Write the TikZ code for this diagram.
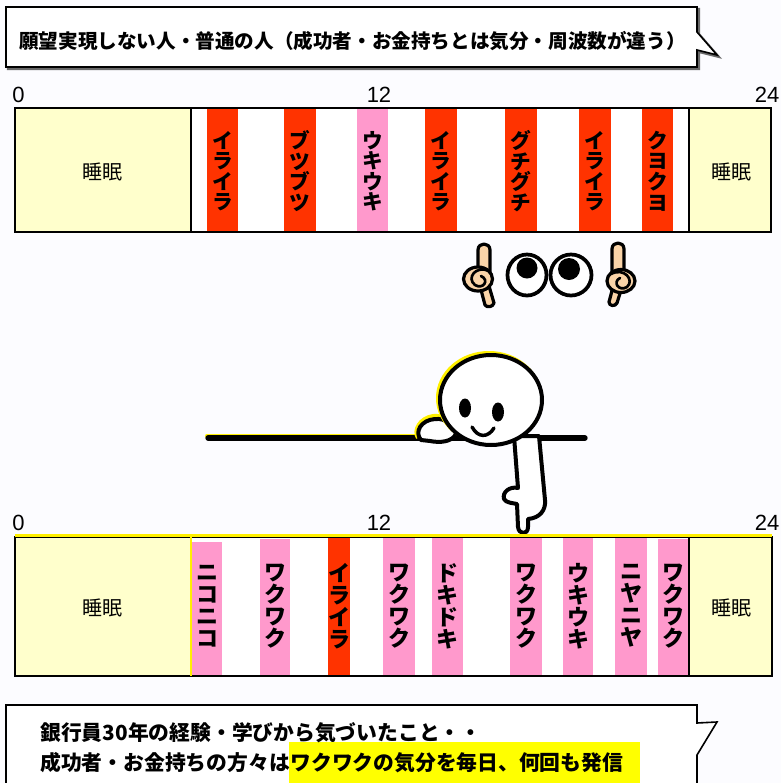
\documentclass[tikz,border=0pt]{standalone}
\usepackage{fontspec}
\newfontfamily\jp{Noto Sans CJK JP}
\newfontfamily\lat{Liberation Sans}
\usetikzlibrary{backgrounds,calc}

\definecolor{pagebg}{RGB}{252,252,255}
\definecolor{sleepfill}{RGB}{255,255,204}
\definecolor{moodred}{RGB}{255,51,0}
\definecolor{moodpink}{RGB}{255,153,204}
\definecolor{skin}{RGB}{250,212,168}
\definecolor{hilite}{RGB}{255,255,0}
\definecolor{shadowgray}{RGB}{105,105,105}
\definecolor{glow}{RGB}{255,240,0}

\tikzset{
  moodtxt/.style={font=\jp\bfseries\fontsize{15.5}{15.4}\selectfont, align=center, inner sep=0pt},
  moodtxtb/.style={font=\jp\bfseries\fontsize{16.5}{16.5}\selectfont, align=center, inner sep=0pt},
  sleeptxt/.style={font=\jp\fontsize{15}{18}\selectfont, inner sep=0pt},
  hourtxt/.style={font=\lat\fontsize{16.5}{18}\selectfont, inner sep=0pt},
  bubbletxt/.style={font=\jp\bfseries\fontsize{14.7}{17}\selectfont, inner sep=0pt, anchor=west},
  bubbletxtb/.style={font=\jp\bfseries\fontsize{15.6}{18}\selectfont, inner sep=0pt, anchor=west},
  barframe/.style={draw=black, line width=1.2},
  sleepbox/.style={fill=sleepfill, draw=black, line width=1},
  ink/.style={draw=black, line width=3, line join=round, line cap=round},
  handink/.style={draw=black, line width=2.4, line join=round, line cap=round, fill=skin},
}

% one coloured mood stripe with its vertical caption
% #1 name, #2 left, #3 right, #4 top, #5 bottom, #6 colour, #7 caption centre y, #8 caption
\newcommand\moodstripe[8]{%
  \fill[#6] (#2,#4) rectangle (#3,#5);
  \node[moodtxt] (#1) at ({(#2+#3)/2},#7) {#8};}
\newcommand\moodstripeb[8]{%
  \fill[#6] (#2,#4) rectangle (#3,#5);
  \node[moodtxtb] (#1) at ({(#2+#3)/2},#7) {#8};}

\begin{document}
\begin{tikzpicture}[x=0.75pt,y=-0.75pt]
\useasboundingbox (0,0) rectangle (781,783);

\begin{scope}[on background layer]
  \fill[pagebg] (0,0) rectangle (781,783);
  % headline speech bubble with its drop shadow
  \begin{scope}[shift={(2,2)}]
    \draw[shadowgray, line width=1.6, line join=miter]
      (6,7) -- (697,7) -- (697,32) -- (717,55) -- (697,50) -- (697,67) -- (6,67) -- cycle;
  \end{scope}
  \draw[black, line width=1.2, fill=white, line join=miter]
    (6,7) -- (697,7) -- (697,32) -- (717,55) -- (697,50) -- (697,67) -- (6,67) -- cycle;
  % lesson speech bubble, running off the lower edge
  \draw[black, line width=1.2, fill=white, line join=miter]
    (6,790) -- (6,705) -- (697,705) -- (697,723) -- (717,722) -- (697,755) -- (697,790);
\end{scope}

% ---------------- headline ----------------
\node[bubbletxt] (headline) at (19,41)
  {願望実現しない人・普通の人（成功者・お金持ちとは気分・周波数が違う）};

% ---------------- upper day bar ----------------
\node[hourtxt, anchor=west] (h0a) at (12,95) {0};
\node[hourtxt] (h12a) at (379,95) {12};
\node[hourtxt] (h24a) at (767,95) {24};

\fill[white] (15,108) rectangle (771,232);
\moodstripe{a1}{207}{238}{108}{232}{moodred}{171}{イ\\ラ\\イ\\ラ}
\moodstripe{a2}{284}{316}{108}{232}{moodred}{171}{ブ\\ツ\\ブ\\ツ}
\moodstripe{a3}{357}{388}{108}{232}{moodpink}{171}{ウ\\キ\\ウ\\キ}
\moodstripe{a4}{425}{457}{108}{232}{moodred}{171}{イ\\ラ\\イ\\ラ}
\moodstripe{a5}{505}{537}{108}{232}{moodred}{171}{グ\\チ\\グ\\チ}
\moodstripe{a6}{579}{611}{108}{232}{moodred}{171}{イ\\ラ\\イ\\ラ}
\moodstripe{a7}{642}{673}{108}{232}{moodred}{171}{ク\\ヨ\\ク\\ヨ}
\draw[sleepbox] (15,108) rectangle (191,232);
\draw[sleepbox] (689,108) rectangle (771,232);
\node[sleeptxt] (sleepA1) at (102,172) {睡眠};
\node[sleeptxt] (sleepA2) at (731,172) {睡眠};
\draw[barframe] (15,108) rectangle (771,232);

% ---------------- watching eyes and pointing hands ----------------
% left hand: wrist, raised finger, fist, curled fingers
\draw[handink] (480,286) -- (489,286) -- (494,303) .. controls (493,307) and (487,308) .. (485,305) -- cycle;
\draw[handink] (478,274) -- (478,250) .. controls (478,242) and (490,242) .. (490,250) -- (490,274) -- cycle;
\draw[handink] (478,279) ellipse [x radius=14.5, y radius=12];
\draw[black, line width=2, line cap=round]
  (489,271) .. controls (476,265) and (466,278) .. (475,285) .. controls (483,290) and (490,280) .. (481,276);
% right hand
\draw[handink] (613,287) -- (622,287) -- (617,303) .. controls (615,307) and (609,306) .. (609,302) -- cycle;
\draw[handink] (612,274) -- (612,249) .. controls (612,241) and (624,241) .. (624,249) -- (624,274) -- cycle;
\draw[handink] (621,281) ellipse [x radius=14, y radius=11.5];
\draw[black, line width=2, line cap=round]
  (611,274) .. controls (624,267) and (635,280) .. (627,287) .. controls (619,292) and (612,282) .. (620,278);
% eyes
\draw[black, line width=2.8, fill=white] (527,275) ellipse [x radius=19.5, y radius=20.5];
\draw[black, line width=2.8, fill=white] (571,275) ellipse [x radius=20.5, y radius=20.5];
\fill[black] (527,268) circle [radius=10.5];
\fill[black] (569,269) circle [radius=11];

% ---------------- figure leaning over the ledge ----------------
\draw[glow, line width=3, line cap=round] (207,435.5) -- (420,435.5);
\draw[black, line width=4, line cap=round] (208,438) -- (585,438);
% hanging arm with pointing hand
\draw[ink, fill=white]
  (514,436) -- (518,488) .. controls (510,486) and (502,492) .. (504,499)
  .. controls (506,503) and (513,503) .. (517,504) -- (518,527)
  .. controls (519,535) and (528,535) .. (528,527) -- (528,519)
  .. controls (540,518) and (546,510) .. (545,500) -- (539,436) -- cycle;
% hand resting on the ledge
\draw[glow, line width=3]
  (418,438) .. controls (413,430) and (420,418) .. (433,416) .. controls (444,415) and (452,421) .. (455,430);
\draw[ink, fill=white]
  (421,440) .. controls (414,432) and (421,420) .. (435,419)
  .. controls (446,418) and (454,425) .. (456,434)
  .. controls (452,442) and (440,443) .. (430,441) -- cycle;
% head
\draw[glow, line width=3] (489,398) ellipse [x radius=51, y radius=45];
\draw[ink, fill=white] (491,400) ellipse [x radius=51, y radius=45];
\fill[black] (465,408) ellipse [x radius=6, y radius=9.5];
\fill[black] (498,412) ellipse [x radius=6, y radius=9.5];
\draw[black, line width=2.6, line cap=round] (472,427) .. controls (478,438) and (488,438) .. (494,428);

% ---------------- lower day bar ----------------
\node[hourtxt, anchor=west] (h0b) at (12,523) {0};
\node[hourtxt] (h12b) at (379,523) {12};
\node[hourtxt] (h24b) at (767,523) {24};

\fill[white] (15,537) rectangle (772,676);
\moodstripeb{b1}{192}{222}{542}{676}{moodpink}{606}{ニ\\コ\\ニ\\コ}
\moodstripeb{b2}{260}{290}{539}{676}{moodpink}{606}{ワ\\ク\\ワ\\ク}
\moodstripeb{b3}{328}{350}{537}{676}{moodred}{606}{イ\\ラ\\イ\\ラ}
\moodstripeb{b4}{383}{415}{537}{676}{moodpink}{606}{ワ\\ク\\ワ\\ク}
\moodstripeb{b5}{432}{463}{537}{676}{moodpink}{606}{ド\\キ\\ド\\キ}
\moodstripeb{b6}{510}{542}{537}{676}{moodpink}{606}{ワ\\ク\\ワ\\ク}
\moodstripeb{b7}{563}{593}{537}{676}{moodpink}{606}{ウ\\キ\\ウ\\キ}
\moodstripeb{b8}{615}{647}{537}{676}{moodpink}{606}{ニ\\ヤ\\ニ\\ヤ}
\moodstripeb{b9}{658}{689}{539}{676}{moodpink}{606}{ワ\\ク\\ワ\\ク}
\draw[sleepbox] (15,537) rectangle (191,676);
\draw[sleepbox] (689,537) rectangle (772,676);
\node[sleeptxt] (sleepB1) at (102,608) {睡眠};
\node[sleeptxt] (sleepB2) at (731,608) {睡眠};
\draw[barframe] (15,537) rectangle (772,676);
\draw[glow, line width=1.6] (15,535.5) -- (772,535.5);
\draw[glow, line width=1.2] (191,537) -- (191,676);

% ---------------- lesson ----------------
\node[bubbletxtb] (lessonA) at (40,733) {銀行員30年の経験・学びから気づいたこと・・};
\node[bubbletxtb] (lessonB1) at (40,763) {成功者・お金持ちの方々は};
\node[bubbletxtb] (lessonB2) at (lessonB1.east) {ワクワクの気分を毎日、何回も発信};
\begin{scope}[on background layer]
  \fill[hilite] ($(lessonB2.west)+(-1,-21)$) rectangle ($(lessonB2.east)+(17,30)$);
\end{scope}
\end{tikzpicture}
\end{document}
